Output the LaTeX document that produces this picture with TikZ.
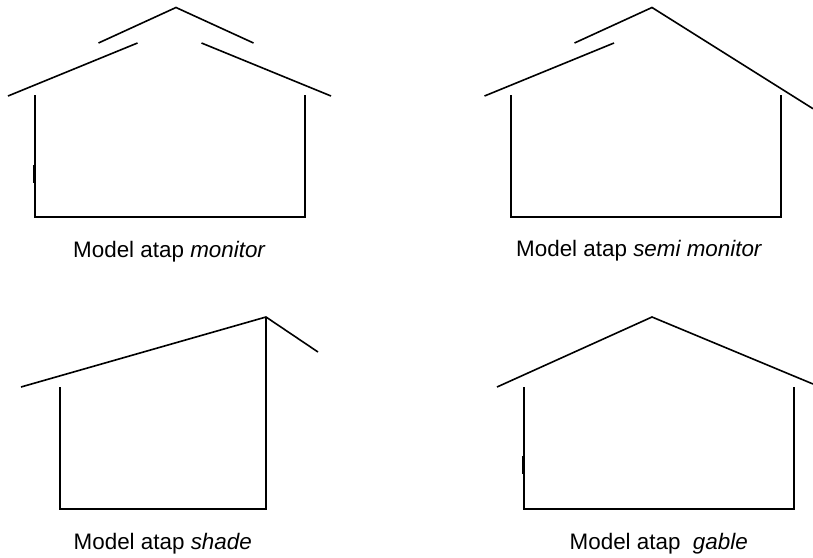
\documentclass[tikz,border=0pt]{standalone}
\usepackage{fontspec}
\setmainfont{Liberation Sans}
\tikzset{atap/.style={line width=1.6pt,line join=miter},
  tebal/.style={line width=2.4pt},
  lbl/.style={inner sep=0pt,anchor=base west,font=\fontsize{22.4pt}{26pt}\selectfont}}
\begin{document}
\begin{tikzpicture}[x=1pt,y=-1pt]

\useasboundingbox (0,0) rectangle (813,557);

% monitor
\draw[atap] (98.5,43) -- (176,7.5) -- (253.5,43) ;
\draw[atap] (8,96) -- (137.5,43) ;
\draw[atap] (201.5,43) -- (331,96) ;
\draw[atap] (34.8,95) -- (34.8,217) -- (304.7,217) -- (304.7,95) ;
\draw[tebal] (34.4,165) -- (34.4,183) ;
\node[lbl] (lbl_monitor) at (73,257.5) {Model atap \textit{monitor}};

% semi monitor
\draw[atap] (574.5,43) -- (652,7.5) -- (813,108.7) ;
\draw[atap] (484.5,96) -- (614,43) ;
\draw[atap] (510.7,95) -- (510.7,217) -- (781,217) -- (781,95) ;
\node[lbl] (lbl_semi) at (516,256) {Model atap \textit{semi monitor}};

% shade
\draw[atap] (21,387) -- (266,317) -- (318,352) ;
\draw[atap] (60,387) -- (60,509) -- (266,509) -- (266,317) ;
\node[lbl] (lbl_shade) at (73.5,549) {Model atap \textit{shade}};

% gable
\draw[atap] (497,387) -- (652,317) -- (813,384) ;
\draw[atap] (524,387) -- (524,509) -- (794,509) -- (794,387) ;
\draw[tebal] (523.6,456) -- (523.6,474) ;
\node[lbl] (lbl_gable) at (569.5,549) {Model atap \ \textit{gable}};

\end{tikzpicture}
\end{document}
